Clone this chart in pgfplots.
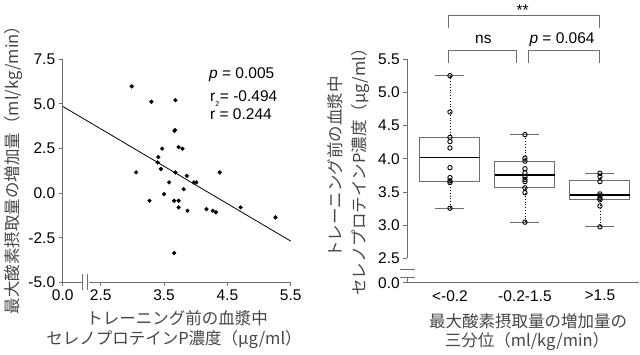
\documentclass[border=0pt]{standalone}
\usepackage{pgfplots}
\pgfplotsset{compat=1.18}
\usepackage{fontspec}
\setmainfont{Liberation Sans}
\newfontfamily\cjk{Noto Sans CJK JP}
\definecolor{axgray}{RGB}{110,110,110}
\definecolor{lblgray}{RGB}{70,70,70}
\newcommand{\tfont}{\fontsize{15.5}{18}\selectfont}
\newcommand{\jfont}{\cjk\fontsize{16.5}{19}\selectfont\color{lblgray}}
\begin{document}
\begin{tikzpicture}
\useasboundingbox (0pt,0pt) rectangle (640pt,355pt);
% ---------------- left scatter ----------------
\begin{axis}[
 at={(62.7pt,72.7pt)}, anchor=south west,
 scale only axis, width=228pt, height=223pt,
 xmin=1.9, xmax=5.5, ymin=-5, ymax=7.5,
 axis lines=left, axis line style={draw=none},
 xtick={1.9,2.5,3.5,4.5,5.5}, xticklabels={0.0,2.5,3.5,4.5,5.5},
 ytick={-5,-2.5,0,2.5,5,7.5}, yticklabels={-5.0,-2.5,0.0,2.5,5.0,7.5},
 tick align=outside, major tick length=4pt,
 tick style={axgray, line width=0.8pt},
 ticklabel style={font=\tfont},
 clip=false,
]
\addplot[only marks, mark=*, mark size=1.9pt, black] coordinates {
(2.99,5.98) (3.30,5.12) (3.68,5.21) (3.665,3.49) (3.675,3.53)
(3.73,2.58) (3.79,2.49) (3.47,2.49) (3.41,2.02) (3.40,1.72)
(3.45,1.35) (3.06,1.16) (3.68,1.16) (3.86,0.97) (4.38,1.16)
(3.97,0.60) (4.01,0.60) (3.58,0.60) (3.81,0.22) (3.50,-0.06)
(3.27,-0.43) (3.66,-0.43) (3.73,-0.43) (3.73,-0.80) (3.87,-0.99)
(4.17,-0.90) (4.27,-0.99) (4.32,-1.08) (4.71,-0.80) (5.26,-1.36)
(3.66,-3.36)};
\addplot[black, line width=0.8pt] coordinates {(1.9,4.86) (5.5,-2.69)};
\draw[axgray, line width=0.8pt] (axis cs:1.9,-5) -- (axis cs:1.9,7.5);
\draw[axgray, line width=0.8pt] (axis cs:1.9,-5) -- (axis cs:2.21,-5);
\draw[axgray, line width=0.8pt] (axis cs:2.31,-5) -- (axis cs:5.5,-5);
\draw[axgray, line width=0.8pt] (axis cs:2.21,-4.56) -- (axis cs:2.21,-5.45);
\draw[axgray, line width=0.8pt] (axis cs:2.285,-4.56) -- (axis cs:2.285,-5.45);
\node[anchor=base west, font=\tfont, inner sep=0pt] at (axis cs:4.21,6.41) {\textit{p} = 0.005};
\node[anchor=base west, font=\tfont, inner sep=0pt] at (axis cs:4.225,5.13) {r\makebox[0.3em][l]{\raisebox{-5pt}{\fontsize{7}{7}\selectfont 2}}= -0.494};
\node[anchor=base west, font=\tfont, inner sep=0pt] at (axis cs:4.225,4.12) {r = 0.244};
\end{axis}
% ---------------- right boxplot ----------------
\begin{axis}[
 at={(407.3pt,72.3pt)}, anchor=south west,
 scale only axis, width=232pt, height=223.4pt,
 xmin=0.431, xmax=3.525, ymin=2.133, ymax=5.5,
 axis lines=left, axis line style={draw=none},
 xtick={1,2,3}, xticklabels={<-0.2,-0.2-1.5,>1.5},
 x tick style={draw=none},
 ytick={2.133,2.5,3,3.5,4,4.5,5,5.5}, yticklabels={0.0,2.5,3.0,3.5,4.0,4.5,5.0,5.5},
 tick align=outside, major tick length=4pt,
 y tick style={axgray, line width=0.8pt},
 ticklabel style={font=\tfont},
 clip=false,
 whisk/.style={black, dotted, line width=0.8pt},
 cap/.style={axgray, line width=1pt},
 bx/.style={axgray, line width=1pt, line join=miter},
 med/.style={black, line width=1.7pt},
]
% group 1
\addplot[whisk] coordinates {(1,3.657) (1,3.256)};
\addplot[whisk] coordinates {(1,4.315) (1,5.253)};
\addplot[cap] coordinates {(0.807,3.256) (1.193,3.256)};
\addplot[cap] coordinates {(0.807,5.253) (1.193,5.253)};
\addplot[bx] coordinates {(0.6,3.657) (1.4,3.657) (1.4,4.315) (0.6,4.315)} -- cycle;
\addplot[med] coordinates {(0.6,4.018) (1.4,4.018)};
% group 2
\addplot[whisk] coordinates {(2,3.566) (2,3.045)};
\addplot[whisk] coordinates {(2,3.958) (2,4.365)};
\addplot[cap] coordinates {(1.807,3.045) (2.193,3.045)};
\addplot[cap] coordinates {(1.807,4.365) (2.193,4.365)};
\addplot[bx] coordinates {(1.6,3.566) (2.4,3.566) (2.4,3.958) (1.6,3.958)} -- cycle;
\addplot[med] coordinates {(1.6,3.753) (2.4,3.753)};
% group 3
\addplot[whisk] coordinates {(3,3.381) (3,2.975)};
\addplot[whisk] coordinates {(3,3.667) (3,3.783)};
\addplot[cap] coordinates {(2.807,2.975) (3.193,2.975)};
\addplot[cap] coordinates {(2.807,3.783) (3.193,3.783)};
\addplot[bx] coordinates {(2.6,3.381) (3.4,3.381) (3.4,3.667) (2.6,3.667)} -- cycle;
\addplot[med] coordinates {(2.6,3.456) (3.4,3.456)};
% points
\addplot[only marks, mark=o, mark size=2.2pt, black, line width=0.9pt] coordinates {
(1,5.253) (1,4.706) (1,4.325) (1,4.26) (1,4.164) (1,3.867) (1,3.717) (1,3.667) (1,3.642) (1,3.256)
(2,4.365) (2,4.009) (2,3.965) (2,3.85) (2,3.79) (2,3.73) (2,3.69) (2,3.657) (2,3.562) (2,3.49) (2,3.045)
(3,3.783) (3,3.732) (3,3.657) (3,3.471) (3,3.441) (3,3.406) (3,3.381) (3,3.29) (3,2.975)};
\draw[axgray, line width=0.8pt] (axis cs:0.431,2.5) -- (axis cs:0.431,5.5);
\draw[axgray, line width=0.8pt] (axis cs:0.431,2.218) -- (axis cs:0.431,2.133) -- (axis cs:3.525,2.133);
\draw[axgray, line width=0.8pt] (axis cs:0.334,2.339) -- (axis cs:0.534,2.339);
\draw[axgray, line width=0.8pt] (axis cs:0.334,2.218) -- (axis cs:0.534,2.218);
% brackets
\draw[axgray, line width=0.9pt] (axis cs:0.985,5.44) -- (axis cs:0.985,5.64) -- (axis cs:1.89,5.64) -- (axis cs:1.89,5.44);
\draw[axgray, line width=0.9pt] (axis cs:2.044,5.44) -- (axis cs:2.044,5.64) -- (axis cs:3,5.64) -- (axis cs:3,5.44);
\draw[axgray, line width=0.9pt] (axis cs:0.985,5.967) -- (axis cs:0.985,6.167) -- (axis cs:3,6.167) -- (axis cs:3,5.967);
\node[anchor=base, font=\tfont, inner sep=0pt] at (axis cs:1.445,5.741) {ns};
\node[anchor=base, font=\tfont, inner sep=0pt] at (axis cs:2.495,5.741) {\textit{p} = 0.064};
\node[anchor=base, font=\tfont, inner sep=0pt] at (axis cs:1.97,6.16) {**};
\end{axis}
% ---------------- labels ----------------
\node[rotate=90, font=\jfont, inner sep=0pt] at (13pt,189pt) {最大酸素摂取量の増加量（ml/kg/min）};
\node[font=\jfont, inner sep=0pt] at (177pt,37pt) {トレーニング前の血漿中};
\node[font=\jfont, inner sep=0pt] at (174pt,15pt) {セレノプロテインP濃度（μg/ml）};
\node[rotate=90, font=\jfont, inner sep=0pt] at (335pt,188pt) {トレーニング前の血漿中};
\node[rotate=90, font=\jfont, inner sep=0pt] at (360pt,187pt) {セレノプロテインP濃度（μg/ml）};
\node[font=\jfont, inner sep=0pt] at (528pt,33.3pt) {最大酸素摂取量の増加量の};
\node[font=\jfont, inner sep=0pt] at (527pt,13.3pt) {三分位（ml/kg/min）};
\end{tikzpicture}
\end{document}
